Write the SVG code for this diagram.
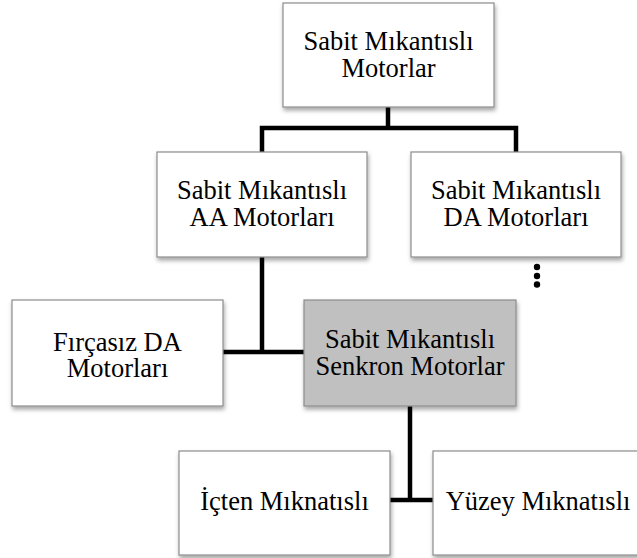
<svg xmlns="http://www.w3.org/2000/svg" width="637" height="558" viewBox="0 0 637 558">
<defs>
<filter id="sh" x="-10%" y="-10%" width="125%" height="130%">
<feDropShadow dx="1" dy="3" stdDeviation="2" flood-color="#000" flood-opacity="0.35"/>
</filter>
<style>
.box{fill:#fff;stroke:#8c8c8c;stroke-width:1.2;filter:url(#sh)}
.gray{fill:#c0c0c0}
.t{font-family:'Liberation Serif','Times New Roman','DejaVu Serif',serif;font-size:26.5px;fill:#000;text-anchor:middle}
.ln{fill:none;stroke:#000;stroke-width:4.5;stroke-linejoin:miter;stroke-linecap:butt}
</style>
</defs>
<rect width="637" height="558" fill="#fff"/>
<g id="connectors">
<path class="ln" d="M388,107 V128"/>
<path class="ln" d="M262,152 V128 H516 V152"/>
<path class="ln" d="M262,257 V352"/>
<path class="ln" d="M223,352 H304"/>
<path class="ln" d="M410,406 V500"/>
<path class="ln" d="M390,500 H433"/>
<circle cx="537" cy="267" r="3.2" fill="#000"/>
<circle cx="537" cy="276" r="3.2" fill="#000"/>
<circle cx="537" cy="284.5" r="3.2" fill="#000"/>
</g>
<g id="n-top">
<rect class="box" x="283" y="3" width="211" height="104"/>
<text class="t" font-family="Liberation Serif, serif"><tspan x="388.5" y="50">Sabit Mıkantıslı</tspan><tspan x="388.5" y="77">Motorlar</tspan></text>
</g>
<g id="n-aa">
<rect class="box" x="157" y="152" width="210" height="105"/>
<text class="t" font-family="Liberation Serif, serif"><tspan x="262" y="199">Sabit Mıkantıslı</tspan><tspan x="262" y="226">AA Motorları</tspan></text>
</g>
<g id="n-da">
<rect class="box" x="411" y="152" width="210" height="105"/>
<text class="t" font-family="Liberation Serif, serif"><tspan x="516" y="199">Sabit Mıkantıslı</tspan><tspan x="516" y="226">DA Motorları</tspan></text>
</g>
<g id="n-fircasiz">
<rect class="box" x="12" y="300" width="211" height="106"/>
<text class="t" font-family="Liberation Serif, serif"><tspan x="117.5" y="351">Fırçasız DA</tspan><tspan x="117.5" y="377">Motorları</tspan></text>
</g>
<g id="n-senkron">
<rect class="box gray" x="304" y="300" width="212" height="106"/>
<text class="t" font-family="Liberation Serif, serif"><tspan x="410" y="348">Sabit Mıkantıslı</tspan><tspan x="410" y="375">Senkron Motorlar</tspan></text>
</g>
<g id="n-icten">
<rect class="box" x="179" y="451" width="211" height="104"/>
<text class="t" font-family="Liberation Serif, serif" x="284.5" y="510">İçten Mıknatıslı</text>
</g>
<g id="n-yuzey">
<rect class="box" x="433" y="451" width="211" height="104"/>
<text class="t" font-family="Liberation Serif, serif" x="538" y="510">Yüzey Mıknatıslı</text>
</g>
</svg>
